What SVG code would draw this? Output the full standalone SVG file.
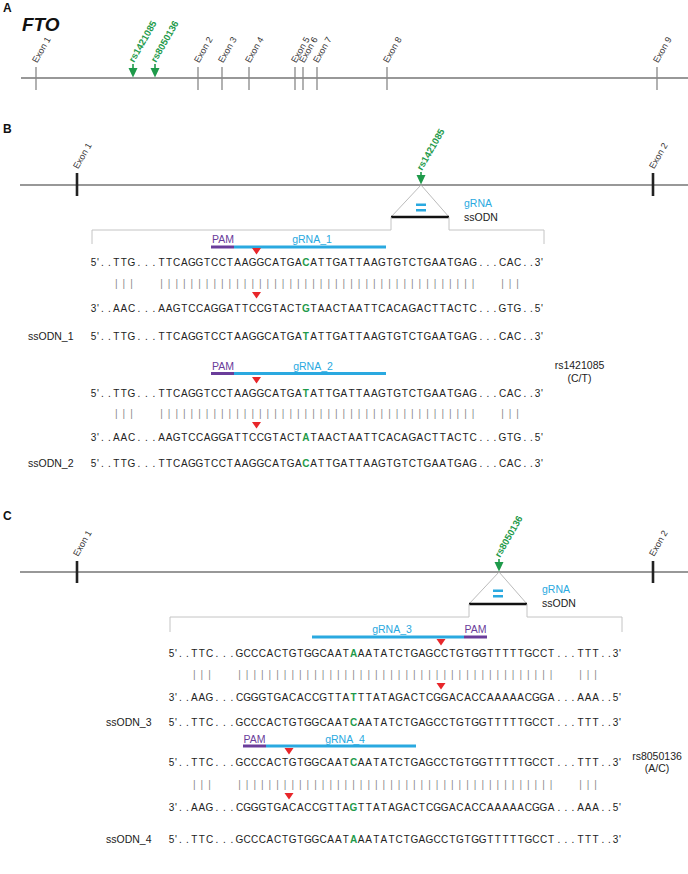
<svg xmlns="http://www.w3.org/2000/svg" width="688" height="874" viewBox="0 0 688 874">
<style>
text{font-family:"Liberation Sans",Arial,Helvetica,sans-serif}
.pl{font-size:12px;font-weight:bold;fill:#111}
.ex{font-size:9px;fill:#333}
.rs{font-size:9.5px;font-weight:bold;fill:#1e9a4a}
.seq{font-size:10px;fill:#222;text-anchor:middle}
.g{fill:#1e9a4a;font-weight:bold}
.bar{font-size:10px;fill:#8a8a8a;text-anchor:middle}
.lbl{font-size:10.5px;fill:#222}
.blue{fill:#2aa9e0}
.pur{fill:#6a3d9a}
.red{fill:#e8262a}
.gline{stroke:#333;stroke-width:1.2;fill:none}
.tickA{stroke:#888;stroke-width:1.3}
.tickB{stroke:#222;stroke-width:2.6}
.tri{stroke:#aaa;stroke-width:0.8;fill:none}
.base{stroke:#111;stroke-width:2.6}
.brk{stroke:#c4c4c4;stroke-width:1;fill:none}
.arr{stroke:#1e9a4a;stroke-width:1.6}
.ah{fill:#1e9a4a}
.gr{stroke:#2aa9e0;stroke-width:3}
.pm{stroke:#6a3d9a;stroke-width:3}
</style>

<!-- Panel A -->
<g id="panelA">
<text class="pl" x="3" y="12">A</text>
<text x="22" y="31" style="font-size:19px;font-weight:bold;font-style:italic;fill:#111">FTO</text>
<line class="gline" x1="21" y1="78" x2="688" y2="78"/>
<g id="A-exon1"><line class="tickA" x1="36" y1="67" x2="36" y2="90"/><text class="ex" transform="translate(37,63.5) rotate(-60)">Exon 1</text></g>
<g id="A-exon2"><line class="tickA" x1="198" y1="67" x2="198" y2="90"/><text class="ex" transform="translate(199,63.5) rotate(-60)">Exon 2</text></g>
<g id="A-exon3"><line class="tickA" x1="222" y1="67" x2="222" y2="90"/><text class="ex" transform="translate(223,63.5) rotate(-60)">Exon 3</text></g>
<g id="A-exon4"><line class="tickA" x1="249" y1="67" x2="249" y2="90"/><text class="ex" transform="translate(250,63.5) rotate(-60)">Exon 4</text></g>
<g id="A-exon5"><line class="tickA" x1="295" y1="67" x2="295" y2="90"/><text class="ex" transform="translate(296,63.5) rotate(-60)">Exon 5</text></g>
<g id="A-exon6"><line class="tickA" x1="303" y1="67" x2="303" y2="90"/><text class="ex" transform="translate(304,63.5) rotate(-60)">Exon 6</text></g>
<g id="A-exon7"><line class="tickA" x1="317" y1="67" x2="317" y2="90"/><text class="ex" transform="translate(318,63.5) rotate(-60)">Exon 7</text></g>
<g id="A-exon8"><line class="tickA" x1="387" y1="67" x2="387" y2="90"/><text class="ex" transform="translate(388,63.5) rotate(-60)">Exon 8</text></g>
<g id="A-exon9"><line class="tickA" x1="657" y1="67" x2="657" y2="90"/><text class="ex" transform="translate(658,63.5) rotate(-60)">Exon 9</text></g>
<g id="A-rs1421085"><line class="arr" x1="133" y1="64" x2="133" y2="70"/><polygon class="ah" points="128.5,68 137.5,68 133,77.5"/><text class="rs" transform="translate(134,63) rotate(-60)">rs1421085</text></g>
<g id="A-rs8050136"><line class="arr" x1="155" y1="64" x2="155" y2="70"/><polygon class="ah" points="150.5,68 159.5,68 155,77.5"/><text class="rs" transform="translate(156,63) rotate(-60)">rs8050136</text></g>
</g>

<!-- Panel B -->
<g id="panelB">
<text class="pl" x="3" y="133">B</text>
<line class="gline" x1="20" y1="185" x2="688" y2="185"/>
<g id="B-exon1"><line class="tickB" x1="77" y1="173" x2="77" y2="196"/><text class="ex" transform="translate(78,169.5) rotate(-60)">Exon 1</text></g>
<g id="B-exon2"><line class="tickB" x1="653" y1="173" x2="653" y2="196"/><text class="ex" transform="translate(654,169.5) rotate(-60)">Exon 2</text></g>
<g id="B-rs"><line class="arr" x1="421" y1="172" x2="421" y2="177"/><polygon class="ah" points="416.5,175 425.5,175 421,184.5"/><text class="rs" transform="translate(422,171) rotate(-60)">rs1421085</text></g>
<g id="B-zoom">
<polyline class="tri" points="391,217 421,185 449,217"/>
<line class="base" x1="391" y1="217" x2="449" y2="217"/>
<rect class="blue" x="416" y="203.5" width="10" height="2.5"/>
<rect class="blue" x="416" y="209" width="10" height="2.5"/>
<text class="lbl blue" x="464" y="206.5">gRNA</text>
<text class="lbl" x="464" y="220.5">ssODN</text>
<path class="brk" d="M92,244 V230 H391 V217 M449,217 V230 H544 V244"/>
</g>

<g id="B-group1">
<line class="pm" x1="211" y1="247" x2="234" y2="247"/>
<line class="gr" x1="234" y1="247" x2="386" y2="247"/>
<text class="lbl pur" x="223" y="243" text-anchor="middle">PAM</text>
<text class="lbl blue" x="312" y="243" text-anchor="middle">gRNA_1</text>
<polygon class="red" points="252,248 261,248 256.5,254.5"/>
<text class="seq" y="266"><tspan x="93.5 98 102.5 106 109.5 113 116.3 123.9 131.5 139 143 146.5 150 154 158">5'. . TTG. . . </tspan><tspan x="161.5 169.1 176.7 184.3 191.9 199.5 207.1 214.7 222.3 229.9 237.5 245.1 252.7 260.3 267.9 275.5 283.1 290.7 298.3">TTCAGGTCCTAAGGCATGA</tspan><tspan class="g" x="305.9">C</tspan><tspan x="313.5 321.1 328.7 336.3 343.9 351.5 359.1 366.7 374.3 381.9 389.5 397.1 404.7 412.3 419.9 427.5 435.1 442.7 450.3 457.9 465.5 473.1">ATTGATTAAGTGTCTGAATGAG</tspan><tspan x="481 484.5 488 491.5 495 499 502.5 510 517.5 525 528 531.5 534.5 537.5 542">. . . CAC. . 3'</tspan></text>
<text class="bar" y="287" x="116.3 123.9 131.5 161.5 169.1 176.7 184.3 191.9 199.5 207.1 214.7 222.3 229.9 237.5 245.1 252.7 260.3 267.9 275.5 283.1 290.7 298.3 305.9 313.5 321.1 328.7 336.3 343.9 351.5 359.1 366.7 374.3 381.9 389.5 397.1 404.7 412.3 419.9 427.5 435.1 442.7 450.3 457.9 465.5 473.1 502.5 510 517.5">||||||||||||||||||||||||||||||||||||||||||||||||</text>
<polygon class="red" points="252,292 261,292 256.5,298.5"/>
<text class="seq" y="312"><tspan x="93.5 98 102.5 106 109.5 113 116.3 123.9 131.5 139 143 146.5 150 154 158">3'. . AAC. . . </tspan><tspan x="161.5 169.1 176.7 184.3 191.9 199.5 207.1 214.7 222.3 229.9 237.5 245.1 252.7 260.3 267.9 275.5 283.1 290.7 298.3">AAGTCCAGGATTCCGTACT</tspan><tspan class="g" x="305.9">G</tspan><tspan x="313.5 321.1 328.7 336.3 343.9 351.5 359.1 366.7 374.3 381.9 389.5 397.1 404.7 412.3 419.9 427.5 435.1 442.7 450.3 457.9 465.5 473.1">TAACTAATTCACAGACTTACTC</tspan><tspan x="481 484.5 488 491.5 495 499 502.5 510 517.5 525 528 531.5 534.5 537.5 542">. . . GTG. . 5'</tspan></text>
</g>
<g id="B-ssODN1">
<text class="lbl" x="28" y="340">ssODN_1</text>
<text class="seq" y="340"><tspan x="93.5 98 102.5 106 109.5 113 116.3 123.9 131.5 139 143 146.5 150 154 158">5'. . TTG. . . </tspan><tspan x="161.5 169.1 176.7 184.3 191.9 199.5 207.1 214.7 222.3 229.9 237.5 245.1 252.7 260.3 267.9 275.5 283.1 290.7 298.3">TTCAGGTCCTAAGGCATGA</tspan><tspan class="g" x="305.9">T</tspan><tspan x="313.5 321.1 328.7 336.3 343.9 351.5 359.1 366.7 374.3 381.9 389.5 397.1 404.7 412.3 419.9 427.5 435.1 442.7 450.3 457.9 465.5 473.1">ATTGATTAAGTGTCTGAATGAG</tspan><tspan x="481 484.5 488 491.5 495 499 502.5 510 517.5 525 528 531.5 534.5 537.5 542">. . . CAC. . 3'</tspan></text>
</g>

<g id="B-group2">
<line class="pm" x1="211" y1="373.5" x2="234" y2="373.5"/>
<line class="gr" x1="234" y1="373.5" x2="386" y2="373.5"/>
<text class="lbl pur" x="223" y="369.5" text-anchor="middle">PAM</text>
<text class="lbl blue" x="313" y="369.5" text-anchor="middle">gRNA_2</text>
<polygon class="red" points="252,377 261,377 256.5,383.5"/>
<text class="seq" y="397"><tspan x="93.5 98 102.5 106 109.5 113 116.3 123.9 131.5 139 143 146.5 150 154 158">5'. . TTG. . . </tspan><tspan x="161.5 169.1 176.7 184.3 191.9 199.5 207.1 214.7 222.3 229.9 237.5 245.1 252.7 260.3 267.9 275.5 283.1 290.7 298.3">TTCAGGTCCTAAGGCATGA</tspan><tspan class="g" x="305.9">T</tspan><tspan x="313.5 321.1 328.7 336.3 343.9 351.5 359.1 366.7 374.3 381.9 389.5 397.1 404.7 412.3 419.9 427.5 435.1 442.7 450.3 457.9 465.5 473.1">ATTGATTAAGTGTCTGAATGAG</tspan><tspan x="481 484.5 488 491.5 495 499 502.5 510 517.5 525 528 531.5 534.5 537.5 542">. . . CAC. . 3'</tspan></text>
<text class="bar" y="417" x="116.3 123.9 131.5 161.5 169.1 176.7 184.3 191.9 199.5 207.1 214.7 222.3 229.9 237.5 245.1 252.7 260.3 267.9 275.5 283.1 290.7 298.3 305.9 313.5 321.1 328.7 336.3 343.9 351.5 359.1 366.7 374.3 381.9 389.5 397.1 404.7 412.3 419.9 427.5 435.1 442.7 450.3 457.9 465.5 473.1 502.5 510 517.5">||||||||||||||||||||||||||||||||||||||||||||||||</text>
<polygon class="red" points="252,422 261,422 256.5,428.5"/>
<text class="seq" y="441"><tspan x="93.5 98 102.5 106 109.5 113 116.3 123.9 131.5 139 143 146.5 150 154 158">3'. . AAC. . . </tspan><tspan x="161.5 169.1 176.7 184.3 191.9 199.5 207.1 214.7 222.3 229.9 237.5 245.1 252.7 260.3 267.9 275.5 283.1 290.7 298.3">AAGTCCAGGATTCCGTACT</tspan><tspan class="g" x="305.9">A</tspan><tspan x="313.5 321.1 328.7 336.3 343.9 351.5 359.1 366.7 374.3 381.9 389.5 397.1 404.7 412.3 419.9 427.5 435.1 442.7 450.3 457.9 465.5 473.1">TAACTAATTCACAGACTTACTC</tspan><tspan x="481 484.5 488 491.5 495 499 502.5 510 517.5 525 528 531.5 534.5 537.5 542">. . . GTG. . 5'</tspan></text>
</g>
<g id="B-ssODN2">
<text class="lbl" x="28" y="467">ssODN_2</text>
<text class="seq" y="467"><tspan x="93.5 98 102.5 106 109.5 113 116.3 123.9 131.5 139 143 146.5 150 154 158">5'. . TTG. . . </tspan><tspan x="161.5 169.1 176.7 184.3 191.9 199.5 207.1 214.7 222.3 229.9 237.5 245.1 252.7 260.3 267.9 275.5 283.1 290.7 298.3">TTCAGGTCCTAAGGCATGA</tspan><tspan class="g" x="305.9">C</tspan><tspan x="313.5 321.1 328.7 336.3 343.9 351.5 359.1 366.7 374.3 381.9 389.5 397.1 404.7 412.3 419.9 427.5 435.1 442.7 450.3 457.9 465.5 473.1">ATTGATTAAGTGTCTGAATGAG</tspan><tspan x="481 484.5 488 491.5 495 499 502.5 510 517.5 525 528 531.5 534.5 537.5 542">. . . CAC. . 3'</tspan></text>
</g>
<g id="B-snp">
<text class="lbl" x="579.5" y="368.5" text-anchor="middle">rs1421085</text>
<text class="lbl" x="579.5" y="381.5" text-anchor="middle">(C/T)</text>
</g>
</g>

<!-- Panel C -->
<g id="panelC">
<text class="pl" x="3" y="520">C</text>
<line class="gline" x1="20" y1="572" x2="688" y2="572"/>
<g id="C-exon1"><line class="tickB" x1="77" y1="561" x2="77" y2="583"/><text class="ex" transform="translate(78,557) rotate(-60)">Exon 1</text></g>
<g id="C-exon2"><line class="tickB" x1="653" y1="561" x2="653" y2="583"/><text class="ex" transform="translate(654,557) rotate(-60)">Exon 2</text></g>
<g id="C-rs"><line class="arr" x1="499" y1="559" x2="499" y2="564"/><polygon class="ah" points="494.5,562 503.5,562 499,571.5"/><text class="rs" transform="translate(500,558) rotate(-60)">rs8050136</text></g>
<g id="C-zoom">
<polyline class="tri" points="469,604 499,572 527,604"/>
<line class="base" x1="469" y1="604" x2="527" y2="604"/>
<rect class="blue" x="493" y="589.5" width="10" height="2.5"/>
<rect class="blue" x="493" y="595" width="10" height="2.5"/>
<text class="lbl blue" x="542" y="593">gRNA</text>
<text class="lbl" x="542" y="607">ssODN</text>
<path class="brk" d="M170,632 V617 H469 V604 M527,604 V617 H622 V632"/>
</g>

<g id="C-group1">
<line class="gr" x1="312" y1="637" x2="464" y2="637"/>
<line class="pm" x1="464" y1="637" x2="487" y2="637"/>
<text class="lbl blue" x="392" y="632.5" text-anchor="middle">gRNA_3</text>
<text class="lbl pur" x="475.5" y="632.5" text-anchor="middle">PAM</text>
<polygon class="red" points="436.5,639 445.5,639 441,645.5"/>
<text class="seq" y="657"><tspan x="171.5 176 180.5 184 187.5 191 194.3 201.9 209.5 217 221 224.5 228 232 236">5'. . TTC. . . </tspan><tspan x="239.5 247.1 254.7 262.3 269.9 277.5 285.1 292.7 300.3 307.9 315.5 323.1 330.7 338.3 345.9">GCCCACTGTGGCAAT</tspan><tspan class="g" x="353.5">A</tspan><tspan x="361.1 368.7 376.3 383.9 391.5 399.1 406.7 414.3 421.9 429.5 437.1 444.7 452.3 459.9 467.5 475.1 482.7 490.3 497.9 505.5 513.1 520.7 528.3 535.9 543.5 551.1">AATATCTGAGCCTGTGGTTTTTGCCT</tspan><tspan x="559 562.5 566 569.5 573 577 580.5 588 595.5 603 606 609.5 612.5 615.5 620">. . . TTT. . 3'</tspan></text>
<text class="bar" y="678" x="194.3 201.9 209.5 239.5 247.1 254.7 262.3 269.9 277.5 285.1 292.7 300.3 307.9 315.5 323.1 330.7 338.3 345.9 353.5 361.1 368.7 376.3 383.9 391.5 399.1 406.7 414.3 421.9 429.5 437.1 444.7 452.3 459.9 467.5 475.1 482.7 490.3 497.9 505.5 513.1 520.7 528.3 535.9 543.5 551.1 580.5 588 595.5">||||||||||||||||||||||||||||||||||||||||||||||||</text>
<polygon class="red" points="436.5,683 445.5,683 441,689.5"/>
<text class="seq" y="701"><tspan x="171.5 176 180.5 184 187.5 191 194.3 201.9 209.5 217 221 224.5 228 232 236">3'. . AAG. . . </tspan><tspan x="239.5 247.1 254.7 262.3 269.9 277.5 285.1 292.7 300.3 307.9 315.5 323.1 330.7 338.3 345.9">CGGGTGACACCGTTA</tspan><tspan class="g" x="353.5">T</tspan><tspan x="361.1 368.7 376.3 383.9 391.5 399.1 406.7 414.3 421.9 429.5 437.1 444.7 452.3 459.9 467.5 475.1 482.7 490.3 497.9 505.5 513.1 520.7 528.3 535.9 543.5 551.1">TTATAGACTCGGACACCAAAAACGGA</tspan><tspan x="559 562.5 566 569.5 573 577 580.5 588 595.5 603 606 609.5 612.5 615.5 620">. . . AAA. . 5'</tspan></text>
</g>
<g id="C-ssODN3">
<text class="lbl" x="106" y="726">ssODN_3</text>
<text class="seq" y="726"><tspan x="171.5 176 180.5 184 187.5 191 194.3 201.9 209.5 217 221 224.5 228 232 236">5'. . TTC. . . </tspan><tspan x="239.5 247.1 254.7 262.3 269.9 277.5 285.1 292.7 300.3 307.9 315.5 323.1 330.7 338.3 345.9">GCCCACTGTGGCAAT</tspan><tspan class="g" x="353.5">C</tspan><tspan x="361.1 368.7 376.3 383.9 391.5 399.1 406.7 414.3 421.9 429.5 437.1 444.7 452.3 459.9 467.5 475.1 482.7 490.3 497.9 505.5 513.1 520.7 528.3 535.9 543.5 551.1">AATATCTGAGCCTGTGGTTTTTGCCT</tspan><tspan x="559 562.5 566 569.5 573 577 580.5 588 595.5 603 606 609.5 612.5 615.5 620">. . . TTT. . 3'</tspan></text>
</g>

<g id="C-group2">
<line class="pm" x1="243" y1="746" x2="266" y2="746"/>
<line class="gr" x1="266" y1="746" x2="416" y2="746"/>
<text class="lbl pur" x="254.5" y="742.5" text-anchor="middle">PAM</text>
<text class="lbl blue" x="345" y="742.5" text-anchor="middle">gRNA_4</text>
<polygon class="red" points="284.5,748 293.5,748 289,754.5"/>
<text class="seq" y="766"><tspan x="171.5 176 180.5 184 187.5 191 194.3 201.9 209.5 217 221 224.5 228 232 236">5'. . TTC. . . </tspan><tspan x="239.5 247.1 254.7 262.3 269.9 277.5 285.1 292.7 300.3 307.9 315.5 323.1 330.7 338.3 345.9">GCCCACTGTGGCAAT</tspan><tspan class="g" x="353.5">C</tspan><tspan x="361.1 368.7 376.3 383.9 391.5 399.1 406.7 414.3 421.9 429.5 437.1 444.7 452.3 459.9 467.5 475.1 482.7 490.3 497.9 505.5 513.1 520.7 528.3 535.9 543.5 551.1">AATATCTGAGCCTGTGGTTTTTGCCT</tspan><tspan x="559 562.5 566 569.5 573 577 580.5 588 595.5 603 606 609.5 612.5 615.5 620">. . . TTT. . 3'</tspan></text>
<text class="bar" y="788" x="194.3 201.9 209.5 239.5 247.1 254.7 262.3 269.9 277.5 285.1 292.7 300.3 307.9 315.5 323.1 330.7 338.3 345.9 353.5 361.1 368.7 376.3 383.9 391.5 399.1 406.7 414.3 421.9 429.5 437.1 444.7 452.3 459.9 467.5 475.1 482.7 490.3 497.9 505.5 513.1 520.7 528.3 535.9 543.5 551.1 580.5 588 595.5">||||||||||||||||||||||||||||||||||||||||||||||||</text>
<polygon class="red" points="284.5,793 293.5,793 289,799.5"/>
<text class="seq" y="811"><tspan x="171.5 176 180.5 184 187.5 191 194.3 201.9 209.5 217 221 224.5 228 232 236">3'. . AAG. . . </tspan><tspan x="239.5 247.1 254.7 262.3 269.9 277.5 285.1 292.7 300.3 307.9 315.5 323.1 330.7 338.3 345.9">CGGGTGACACCGTTA</tspan><tspan class="g" x="353.5">G</tspan><tspan x="361.1 368.7 376.3 383.9 391.5 399.1 406.7 414.3 421.9 429.5 437.1 444.7 452.3 459.9 467.5 475.1 482.7 490.3 497.9 505.5 513.1 520.7 528.3 535.9 543.5 551.1">TTATAGACTCGGACACCAAAAACGGA</tspan><tspan x="559 562.5 566 569.5 573 577 580.5 588 595.5 603 606 609.5 612.5 615.5 620">. . . AAA. . 5'</tspan></text>
</g>
<g id="C-ssODN4">
<text class="lbl" x="106" y="843">ssODN_4</text>
<text class="seq" y="843"><tspan x="171.5 176 180.5 184 187.5 191 194.3 201.9 209.5 217 221 224.5 228 232 236">5'. . TTC. . . </tspan><tspan x="239.5 247.1 254.7 262.3 269.9 277.5 285.1 292.7 300.3 307.9 315.5 323.1 330.7 338.3 345.9">GCCCACTGTGGCAAT</tspan><tspan class="g" x="353.5">A</tspan><tspan x="361.1 368.7 376.3 383.9 391.5 399.1 406.7 414.3 421.9 429.5 437.1 444.7 452.3 459.9 467.5 475.1 482.7 490.3 497.9 505.5 513.1 520.7 528.3 535.9 543.5 551.1">AATATCTGAGCCTGTGGTTTTTGCCT</tspan><tspan x="559 562.5 566 569.5 573 577 580.5 588 595.5 603 606 609.5 612.5 615.5 620">. . . TTT. . 3'</tspan></text>
</g>
<g id="C-snp">
<text class="lbl" x="657" y="759.5" text-anchor="middle">rs8050136</text>
<text class="lbl" x="657" y="772" text-anchor="middle">(A/C)</text>
</g>
</g>
</svg>
